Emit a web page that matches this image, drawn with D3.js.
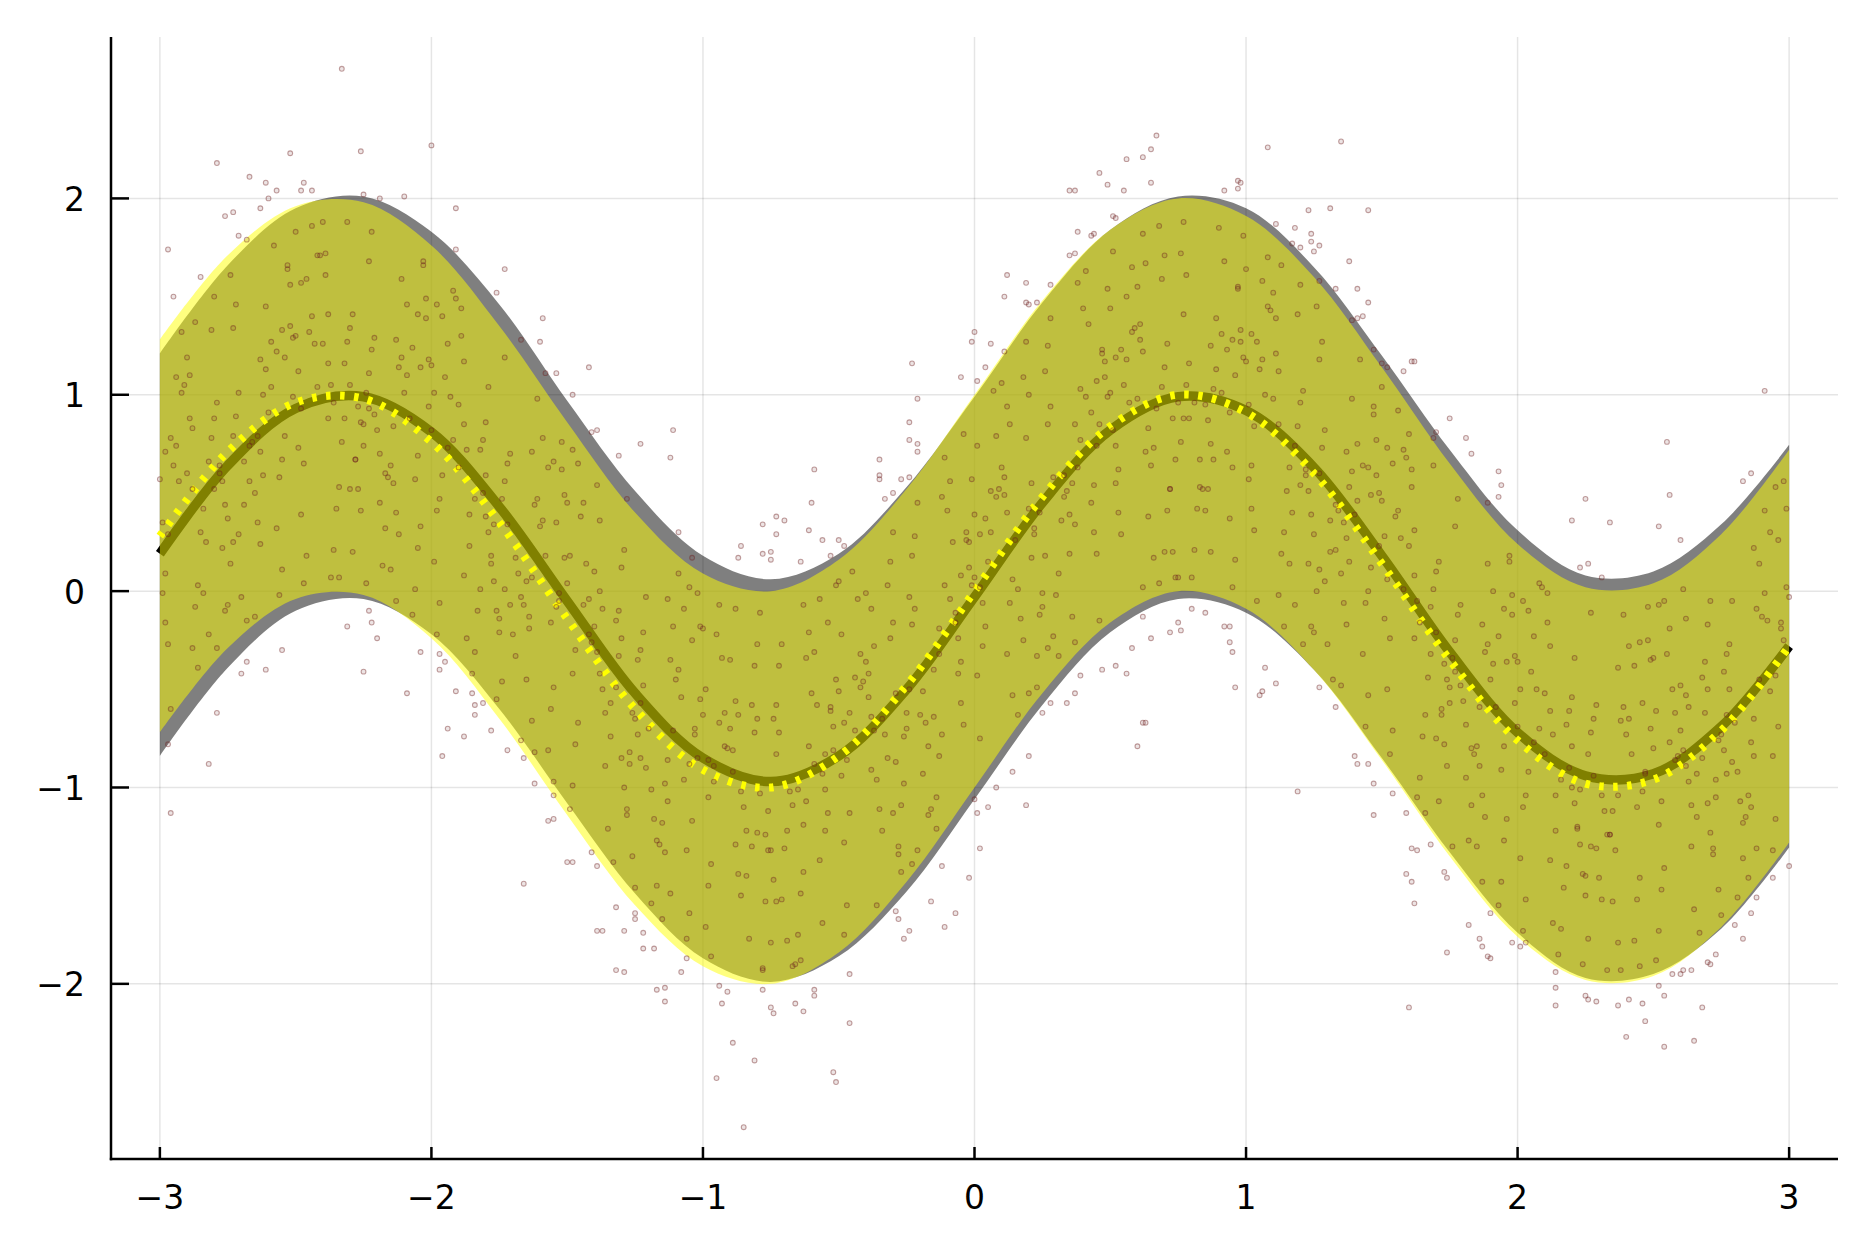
<!DOCTYPE html>
<html>
<head>
<meta charset="utf-8">
<script src="https://cdn.jsdelivr.net/npm/d3@7"></script>
<style>
  html, body { margin: 0; padding: 0; background: #ffffff; }
  svg { display: block; }
</style>
</head>
<body>
<svg id="chart" width="1875" height="1250"></svg>
<script>
// ---------------- data ----------------
const xGrid = [-3, -2.75, -2.5, -2.25, -2, -1.75, -1.5, -1.25, -1, -0.75, -0.5, -0.25, 0,
               0.25, 0.5, 0.75, 1, 1.25, 1.5, 1.75, 2, 2.25, 2.5, 2.75, 3];

// reference (black) curve and its grey ribbon
const trueMean  = [0.19, 0.64, 0.93, 0.99, 0.81, 0.43, -0.05, -0.52, -0.85, -0.97, -0.84, -0.50, -0.03,
                   0.45, 0.82, 0.99, 0.92, 0.63, 0.18, -0.31, -0.72, -0.94, -0.93, -0.69, -0.28];
const trueUpper = [1.21, 1.66, 1.95, 2.01, 1.83, 1.46, 0.97, 0.51, 0.18, 0.06, 0.19, 0.53, 0.99,
                   1.47, 1.84, 2.01, 1.95, 1.65, 1.20, 0.72, 0.31, 0.08, 0.10, 0.34, 0.745];
const trueLower = [-0.84, -0.39, -0.10, -0.04, -0.22, -0.60, -1.08, -1.54, -1.87, -1.99, -1.86, -1.53, -1.06,
                   -0.58, -0.21, -0.04, -0.11, -0.40, -0.85, -1.33, -1.74, -1.97, -1.95, -1.72, -1.305];

// fitted (yellow) curve and its ribbon
const fitMean  = [0.28, 0.71, 0.96, 0.98, 0.76, 0.35, -0.14, -0.60, -0.91, -1.00, -0.84, -0.48, 0.00,
                  0.48, 0.84, 1.00, 0.91, 0.60, 0.14, -0.35, -0.76, -0.98, -0.96, -0.71, -0.28];
const fitUpper = [1.28, 1.71, 1.96, 1.98, 1.76, 1.35, 0.86, 0.40, 0.09, 0.00, 0.16, 0.52, 1.00,
                  1.48, 1.84, 2.00, 1.91, 1.60, 1.14, 0.65, 0.24, 0.02, 0.04, 0.29, 0.72];
const fitLower = [-0.72, -0.29, -0.04, -0.02, -0.24, -0.65, -1.14, -1.60, -1.91, -2.00, -1.84, -1.48, -1.00,
                  -0.52, -0.16, 0.00, -0.09, -0.40, -0.86, -1.35, -1.76, -1.98, -1.96, -1.71, -1.28];

const xTicks = [-3, -2, -1, 0, 1, 2, 3];
const xTickLabels = ["\u22123", "\u22122", "\u22121", "0", "1", "2", "3"];
const yTicks = [-2, -1, 0, 1, 2];
const yTickLabels = ["\u22122", "\u22121", "0", "1", "2"];

// scatter: points inside the ribbon (first set)
const bandPointsA = [
[-2.99,0.35],[-2.83,0.25],[-2.91,1.05],[-2.77,0.56],[-2.95,0.64],[-2.87,-0.08],[-2.80,1.50],[-2.97,0.29],[-2.89,0.88],[-2.76,-0.10],[-2.93,0.56],[-2.85,0.30],[-2.81,1.33],[-2.98,-0.16],[-2.88,0.83],[-2.79,-0.29],
[-2.74,0.14],[-2.58,1.76],[-2.66,0.76],[-2.52,1.35],[-2.70,-0.03],[-2.62,1.00],[-2.55,0.67],[-2.72,1.46],[-2.64,0.35],[-2.51,1.29],[-2.68,-0.15],[-2.60,0.91],[-2.56,0.58],[-2.73,1.34],[-2.63,0.71],[-2.54,1.19],
[-2.49,1.12],[-2.33,0.76],[-2.41,1.71],[-2.27,0.52],[-2.45,1.32],[-2.37,0.07],[-2.30,1.05],[-2.47,0.65],[-2.39,1.61],[-2.26,0.86],[-2.43,1.26],[-2.35,0.42],[-2.31,1.88],[-2.48,0.93],[-2.38,1.41],[-2.29,0.20],
[-2.24,0.04],[-2.08,0.88],[-2.16,0.58],[-2.02,1.39],[-2.20,0.82],[-2.12,1.14],[-2.05,0.22],[-2.22,1.83],[-2.14,0.84],[-2.01,1.18],[-2.18,0.13],[-2.10,1.01],[-2.06,0.57],[-2.23,1.68],[-2.13,0.40],[-2.04,1.14],
[-1.99,1.01],[-1.83,-0.10],[-1.91,1.49],[-1.77,0.34],[-1.95,1.09],[-1.87,-0.24],[-1.80,0.59],[-1.97,0.47],[-1.89,1.30],[-1.76,-0.10],[-1.93,0.99],[-1.85,-0.42],[-1.81,0.50],[-1.98,0.41],[-1.88,1.17],[-1.79,0.30],
[-1.74,-0.46],[-1.58,0.18],[-1.66,-0.07],[-1.52,0.62],[-1.70,-0.22],[-1.62,0.44],[-1.55,-0.97],[-1.72,0.34],[-1.64,-0.19],[-1.51,0.49],[-1.68,0.09],[-1.60,0.33],[-1.56,-0.60],[-1.73,1.19],[-1.63,0.07],[-1.54,0.35],
[-1.49,0.18],[-1.33,-1.38],[-1.41,-0.26],[-1.27,-0.88],[-1.45,0.38],[-1.37,-0.50],[-1.30,-0.24],[-1.47,-0.78],[-1.39,0.54],[-1.26,-0.62],[-1.43,0.14],[-1.35,-1.21],[-1.31,-0.33],[-1.48,-0.42],[-1.38,0.36],[-1.29,-1.00],
[-1.24,-0.73],[-1.08,-0.54],[-1.16,-1.29],[-1.02,-0.01],[-1.20,-0.70],[-1.12,-0.35],[-1.05,-1.64],[-1.22,-0.48],[-1.14,-0.98],[-1.01,-0.18],[-1.18,-1.16],[-1.10,-0.45],[-1.06,-1.77],[-1.23,-0.57],[-1.13,-1.07],[-1.04,-0.25],
[-0.99,-0.50],[-0.83,-1.77],[-0.91,-0.80],[-0.77,-1.24],[-0.95,-0.22],[-0.87,-1.44],[-0.80,-0.65],[-0.97,-1.86],[-0.89,-0.92],[-0.76,-1.32],[-0.93,-0.34],[-0.85,-1.10],[-0.81,-0.72],[-0.98,-1.50],[-0.88,-0.09],[-0.79,-1.03],
[-0.74,-1.47],[-0.58,-0.58],[-0.66,-1.90],[-0.52,-0.81],[-0.70,-1.31],[-0.62,-0.34],[-0.55,-1.01],[-0.72,-0.72],[-0.64,-1.54],[-0.51,0.03],[-0.68,-1.02],[-0.60,-0.52],[-0.56,-1.69],[-0.73,-0.83],[-0.63,-1.19],[-0.54,-0.16],
[-0.49,-0.22],[-0.33,-0.73],[-0.41,-0.46],[-0.27,-1.09],[-0.45,0.10],[-0.37,-0.71],[-0.30,-0.16],[-0.47,-1.60],[-0.39,-0.54],[-0.26,-0.74],[-0.43,-0.04],[-0.35,-1.11],[-0.31,-0.24],[-0.48,-1.75],[-0.38,-0.64],[-0.29,-0.87],
[-0.24,-0.50],[-0.08,0.25],[-0.16,-1.11],[-0.02,0.12],[-0.20,-0.63],[-0.12,0.48],[-0.05,-0.57],[-0.22,-0.09],[-0.14,-1.21],[-0.01,0.03],[-0.18,-0.67],[-0.10,0.41],[-0.06,-0.24],[-0.23,-0.17],[-0.13,-0.84],[-0.04,0.80],
[0.01,0.74],[0.17,-0.14],[0.09,0.52],[0.23,-0.49],[0.05,0.15],[0.13,-0.06],[0.20,1.00],[0.03,-0.06],[0.11,0.49],[0.24,-0.12],[0.07,1.02],[0.15,0.26],[0.19,0.78],[0.02,-0.75],[0.12,0.40],[0.21,0.17],
[0.26,0.18],[0.42,1.36],[0.34,0.51],[0.48,1.09],[0.30,-0.02],[0.38,1.57],[0.45,0.74],[0.28,0.94],[0.36,-0.13],[0.49,0.99],[0.32,0.36],[0.40,1.44],[0.44,0.30],[0.27,0.85],[0.37,-0.26],[0.46,0.85],
[0.51,1.73],[0.67,0.93],[0.59,1.34],[0.73,0.20],[0.55,1.05],[0.63,0.71],[0.70,1.71],[0.53,0.40],[0.61,1.28],[0.74,0.07],[0.57,0.96],[0.65,0.64],[0.69,1.59],[0.52,0.74],[0.62,1.22],[0.71,0.41],
[0.76,0.76],[0.92,1.68],[0.84,0.52],[0.98,1.27],[0.80,0.07],[0.88,1.03],[0.95,0.63],[0.78,1.61],[0.86,0.87],[0.99,1.19],[0.82,0.42],[0.90,1.85],[0.94,0.91],[0.77,1.41],[0.87,0.20],[0.96,1.10],
[1.01,0.95],[1.17,0.40],[1.09,1.43],[1.23,0.51],[1.05,1.13],[1.13,0.19],[1.20,1.56],[1.03,0.84],[1.11,1.21],[1.24,-0.18],[1.07,1.00],[1.15,0.51],[1.19,1.41],[1.02,0.42],[1.12,1.12],[1.21,-0.27],
[1.26,0.00],[1.42,1.18],[1.34,0.41],[1.48,0.59],[1.30,-0.27],[1.38,0.53],[1.45,0.00],[1.28,1.27],[1.36,-0.06],[1.49,0.50],[1.32,-0.45],[1.40,0.39],[1.44,-0.06],[1.27,1.18],[1.37,0.27],[1.46,0.49],
[1.51,0.28],[1.67,-0.44],[1.59,0.68],[1.73,-0.78],[1.55,0.38],[1.63,-1.05],[1.70,-0.21],[1.53,-0.24],[1.61,0.53],[1.74,-0.45],[1.57,0.27],[1.65,-0.74],[1.69,0.64],[1.52,0.06],[1.62,0.31],[1.71,-1.07],
[1.76,-1.30],[1.92,-0.59],[1.84,-0.83],[1.98,-0.12],[1.80,-0.56],[1.88,-0.31],[1.95,-1.27],[1.78,0.47],[1.86,-0.59],[1.99,-0.33],[1.82,-1.27],[1.90,-0.45],[1.94,-0.91],[1.77,0.33],[1.87,-1.04],[1.96,-0.36],
[2.01,-0.50],[2.17,-1.51],[2.09,0.02],[2.23,-1.01],[2.05,-0.41],[2.13,-1.69],[2.20,-0.79],[2.03,-1.04],[2.11,-0.16],[2.24,-1.44],[2.07,-0.50],[2.15,-1.85],[2.19,-0.90],[2.02,-1.10],[2.12,-0.28],[2.21,-1.08],
[2.26,-1.77],[2.42,-0.83],[2.34,-1.24],[2.48,-0.25],[2.30,-1.46],[2.38,-0.66],[2.45,-1.91],[2.28,-0.94],[2.36,-1.32],[2.49,-0.35],[2.32,-1.12],[2.40,-0.73],[2.44,-1.57],[2.27,-0.11],[2.37,-1.04],[2.46,-0.57],
[2.51,-0.61],[2.67,-1.74],[2.59,-0.84],[2.73,-1.05],[2.55,-0.32],[2.63,-0.97],[2.70,-0.50],[2.53,-1.52],[2.61,0.01],[2.74,-0.76],[2.57,-0.50],[2.65,-1.62],[2.69,-0.62],[2.52,-1.19],[2.62,-0.14],[2.71,-1.23],
[2.76,-0.81],[2.92,-0.15],[2.84,-1.15],[2.98,0.56],[2.80,-0.67],[2.88,-0.09],[2.95,-1.16],[2.78,-0.50],[2.86,-0.77],[2.99,0.42],[2.82,-1.07],[2.90,-0.13],[2.94,-1.32],[2.77,-0.63],[2.87,-0.84],[2.96,0.26]
];

// scatter: points inside the ribbon (second set)
const bandPointsB = [
[-2.98,0.71],[-2.82,-0.22],[-2.90,0.60],[-2.76,0.44],[-2.94,1.09],[-2.86,0.03],[-2.79,0.96],[-2.96,-0.60],[-2.88,0.52],[-2.75,0.37],[-2.92,1.01],[-2.84,0.42],[-2.80,0.88],[-2.97,-0.27],[-2.87,1.37],[-2.78,0.60],
[-2.73,0.25],[-2.57,1.22],[-2.65,-0.13],[-2.51,0.99],[-2.69,0.44],[-2.61,1.45],[-2.54,0.79],[-2.71,1.01],[-2.63,0.24],[-2.50,1.83],[-2.67,0.74],[-2.59,1.27],[-2.55,0.11],[-2.72,0.89],[-2.62,0.59],[-2.53,1.64],
[-2.48,1.57],[-2.32,0.88],[-2.40,1.26],[-2.26,0.41],[-2.44,1.86],[-2.36,0.96],[-2.29,1.41],[-2.46,0.18],[-2.38,1.16],[-2.25,0.74],[-2.42,1.71],[-2.34,0.53],[-2.30,1.34],[-2.47,0.04],[-2.37,1.05],[-2.28,0.67],
[-2.23,0.93],[-2.07,1.24],[-2.15,0.11],[-2.01,0.94],[-2.19,0.70],[-2.11,1.59],[-2.04,0.33],[-2.21,1.29],[-2.13,-0.05],[-2.00,0.82],[-2.17,0.60],[-2.09,1.46],[-2.05,0.69],[-2.22,1.23],[-2.12,0.29],[-2.03,1.68],
[-1.98,1.46],[-1.82,0.01],[-1.90,0.95],[-1.76,-0.55],[-1.94,0.73],[-1.86,0.23],[-1.79,1.04],[-1.96,0.59],[-1.88,0.85],[-1.75,-0.21],[-1.92,1.53],[-1.84,0.47],[-1.80,0.86],[-1.97,-0.06],[-1.87,0.72],[-1.78,0.18],
[-1.73,0.01],[-1.57,0.63],[-1.65,0.05],[-1.51,0.17],[-1.69,-0.33],[-1.61,0.98],[-1.54,-0.08],[-1.71,0.70],[-1.63,-0.66],[-1.50,0.04],[-1.67,-0.03],[-1.59,0.78],[-1.55,-0.49],[-1.72,0.65],[-1.62,-0.82],[-1.53,-0.01],
[-1.48,0.72],[-1.32,-0.49],[-1.40,0.10],[-1.26,-1.35],[-1.44,-0.07],[-1.36,-0.62],[-1.29,0.21],[-1.46,-0.67],[-1.38,0.00],[-1.25,-1.51],[-1.42,-0.22],[-1.34,-0.74],[-1.30,0.12],[-1.47,-0.30],[-1.37,-0.09],[-1.28,-1.11],
[-1.23,-0.85],[-1.07,-0.09],[-1.15,-1.18],[-1.01,-0.55],[-1.19,-1.59],[-1.11,-0.71],[-1.04,-1.17],[-1.21,-0.03],[-1.13,-0.86],[-1.00,-0.63],[-1.17,-1.27],[-1.09,0.09],[-1.05,-0.88],[-1.22,-0.21],[-1.12,-1.54],[-1.03,-0.70],
[-0.98,-0.86],[-0.82,-1.30],[-0.90,-0.35],[-0.76,-1.12],[-0.94,-0.67],[-0.86,-1.55],[-0.79,-0.11],[-0.96,-0.97],[-0.88,-0.56],[-0.75,-1.79],[-0.92,-0.79],[-0.84,-1.22],[-0.80,-0.27],[-0.97,-1.39],[-0.87,-0.63],[-0.78,-1.92],
[-0.73,-1.58],[-0.57,-0.04],[-0.65,-1.01],[-0.51,-0.45],[-0.69,-1.78],[-0.61,-0.79],[-0.54,-1.13],[-0.71,-0.27],[-0.63,-1.43],[-0.50,-0.51],[-0.67,-1.91],[-0.59,-0.88],[-0.55,-1.22],[-0.72,-0.38],[-0.62,-1.07],[-0.53,-0.61],
[-0.48,-0.67],[-0.32,-0.85],[-0.40,-0.01],[-0.26,-0.98],[-0.44,-0.44],[-0.36,-1.60],[-0.29,-0.52],[-0.46,-1.13],[-0.38,-0.09],[-0.25,-0.62],[-0.42,-0.49],[-0.34,-1.22],[-0.30,0.30],[-0.47,-0.86],[-0.37,-0.28],[-0.28,-1.34],
[-0.23,-1.39],[-0.07,-0.11],[-0.15,-0.64],[-0.01,0.57],[-0.19,-0.51],[-0.11,0.03],[-0.04,-0.68],[-0.21,0.45],[-0.13,-0.32],[0.00,0.39],[-0.17,-1.14],[-0.09,-0.04],[-0.05,-0.36],[-0.22,0.28],[-0.12,-0.73],[-0.03,0.26],
[0.02,0.29],[0.18,-0.25],[0.10,1.06],[0.24,0.40],[0.06,0.51],[0.14,-0.53],[0.21,0.55],[0.04,-0.18],[0.12,0.94],[0.25,-0.01],[0.08,0.48],[0.16,-0.63],[0.20,0.42],[0.03,-0.28],[0.13,0.85],[0.22,0.29],
[0.27,-0.29],[0.43,0.91],[0.35,0.39],[0.49,1.54],[0.31,0.09],[0.39,1.03],[0.46,-0.15],[0.29,0.58],[0.37,0.34],[0.50,1.44],[0.33,0.48],[0.41,0.99],[0.45,0.19],[0.28,1.39],[0.38,0.63],[0.47,1.21],
[0.52,1.19],[0.68,0.04],[0.60,0.98],[0.74,0.67],[0.56,1.50],[0.64,0.83],[0.71,1.26],[0.54,0.29],[0.62,1.82],[0.75,0.96],[0.58,1.32],[0.66,0.17],[0.70,1.14],[0.53,0.62],[0.63,1.67],[0.72,0.52],
[0.77,0.88],[0.93,1.23],[0.85,0.41],[0.99,1.81],[0.81,0.96],[0.89,1.39],[0.96,0.16],[0.79,1.16],[0.87,0.75],[1.00,1.64],[0.83,0.53],[0.91,1.31],[0.95,0.02],[0.78,1.05],[0.88,0.67],[0.97,1.55],
[1.02,1.31],[1.18,-0.07],[1.10,0.98],[1.24,0.39],[1.06,1.58],[1.14,0.30],[1.21,1.02],[1.04,-0.05],[1.12,0.85],[1.25,0.29],[1.08,1.45],[1.16,0.63],[1.20,0.96],[1.03,0.31],[1.13,1.66],[1.22,0.62],
[1.27,0.11],[1.43,0.64],[1.35,-0.48],[1.49,0.23],[1.31,0.20],[1.39,0.98],[1.46,0.12],[1.29,0.82],[1.37,-0.17],[1.50,1.04],[1.33,0.44],[1.41,0.75],[1.45,-0.53],[1.28,0.73],[1.38,0.15],[1.47,0.94],
[1.52,0.73],[1.68,-0.32],[1.60,0.23],[1.74,-0.89],[1.56,0.92],[1.64,-0.16],[1.71,0.15],[1.54,-0.71],[1.62,0.08],[1.75,-0.57],[1.58,0.72],[1.66,-0.63],[1.70,0.10],[1.53,-0.83],[1.63,-0.05],[1.72,-0.60],
[1.77,-0.41],[1.93,-0.23],[1.85,-1.30],[1.99,-0.57],[1.81,-0.68],[1.89,0.14],[1.96,-1.16],[1.79,-0.07],[1.87,-1.48],[2.00,-0.69],[1.83,-0.80],[1.91,0.00],[1.95,-0.79],[1.78,-0.12],[1.88,-1.15],[1.97,0.18],
[2.02,-0.05],[2.18,-1.40],[2.10,-0.52],[2.24,-1.90],[2.06,-0.77],[2.14,-1.22],[2.21,-0.34],[2.04,-0.92],[2.12,-0.61],[2.25,-1.55],[2.08,0.04],[2.16,-0.96],[2.20,-0.54],[2.03,-1.57],[2.13,-0.73],[2.22,-1.20],
[2.27,-1.30],[2.43,-0.38],[2.35,-1.12],[2.49,-0.70],[2.31,-1.57],[2.39,-0.12],[2.46,-1.02],[2.29,-0.58],[2.37,-1.79],[2.50,-0.80],[2.33,-1.24],[2.41,-0.28],[2.45,-1.46],[2.28,-0.65],[2.38,-1.93],[2.47,-0.93],
[2.52,-0.07],[2.68,-0.85],[2.60,-0.48],[2.74,-1.52],[2.56,-0.77],[2.64,-1.09],[2.71,-0.05],[2.54,-1.41],[2.62,-0.53],[2.75,-1.65],[2.58,-0.86],[2.66,-1.15],[2.70,-0.17],[2.53,-1.07],[2.63,-0.59],[2.72,-1.34],
[2.77,-0.93],[2.93,0.30],[2.85,-1.04],[2.99,0.02],[2.81,-1.56],[2.89,-0.45],[2.96,-0.69],[2.79,-0.05],[2.87,-0.65],[3.00,-0.03],[2.83,-1.18],[2.91,0.41],[2.95,-0.43],[2.78,-0.27],[2.88,-1.31],[2.97,-0.19]
];

// scatter: points inside the ribbon (third set)
const bandPointsC = [
[-3.00,0.57],[-2.84,-0.01],[-2.92,1.32],[-2.78,0.64],[-2.96,0.78],[-2.88,-0.29],[-2.81,0.78],[-2.98,0.09],[-2.90,1.19],[-2.77,0.22],[-2.94,0.74],[-2.86,-0.39],[-2.82,0.66],[-2.99,-0.01],[-2.89,1.10],[-2.80,0.52],
[-2.75,-0.07],[-2.59,1.04],[-2.67,0.56],[-2.53,1.66],[-2.71,0.29],[-2.63,1.18],[-2.56,-0.02],[-2.73,0.79],[-2.65,0.50],[-2.52,1.56],[-2.69,0.66],[-2.61,1.13],[-2.57,0.32],[-2.74,1.61],[-2.64,0.79],[-2.55,1.33],
[-2.50,1.30],[-2.34,0.07],[-2.42,1.04],[-2.28,0.67],[-2.46,1.59],[-2.38,0.88],[-2.31,1.27],[-2.48,0.39],[-2.40,1.88],[-2.27,0.94],[-2.44,1.40],[-2.36,0.21],[-2.32,1.16],[-2.49,0.73],[-2.39,1.72],[-2.30,0.52],
[-2.25,0.85],[-2.09,1.10],[-2.17,0.32],[-2.03,1.66],[-2.21,0.90],[-2.13,1.28],[-2.06,0.01],[-2.23,1.11],[-2.15,0.64],[-2.02,1.49],[-2.19,0.45],[-2.11,1.19],[-2.07,-0.12],[-2.24,1.01],[-2.14,0.55],[-2.05,1.41],
[-2.00,1.15],[-1.84,-0.31],[-1.92,0.77],[-1.78,0.14],[-1.96,1.40],[-1.88,0.08],[-1.81,0.77],[-1.98,-0.22],[-1.90,0.63],[-1.77,0.05],[-1.94,1.26],[-1.86,0.39],[-1.82,0.72],[-1.99,0.15],[-1.89,1.44],[-1.80,0.38],
[-1.75,-0.14],[-1.59,0.36],[-1.67,-0.76],[-1.53,-0.05],[-1.71,-0.07],[-1.63,0.71],[-1.56,-0.16],[-1.73,0.56],[-1.65,-0.45],[-1.52,0.76],[-1.69,0.17],[-1.61,0.47],[-1.57,-0.81],[-1.74,0.47],[-1.64,-0.13],[-1.55,0.66],
[-1.50,0.45],[-1.34,-0.57],[-1.42,-0.04],[-1.28,-1.14],[-1.46,0.65],[-1.38,-0.42],[-1.31,-0.10],[-1.48,-0.99],[-1.40,-0.18],[-1.27,-0.82],[-1.44,0.45],[-1.36,-0.89],[-1.32,-0.15],[-1.49,-1.11],[-1.39,-0.31],[-1.30,-0.85],
[-1.25,-0.65],[-1.09,-0.40],[-1.17,-1.50],[-1.03,-0.73],[-1.21,-0.90],[-1.13,-0.04],[-1.06,-1.32],[-1.23,-0.30],[-1.15,-1.67],[-1.02,-0.85],[-1.19,-1.01],[-1.11,-0.18],[-1.07,-0.96],[-1.24,-0.35],[-1.14,-1.33],[-1.05,0.02],
[-1.00,-0.19],[-0.84,-1.45],[-0.92,-0.62],[-0.78,-1.93],[-0.96,-0.89],[-0.88,-1.29],[-0.81,-0.38],[-0.98,-1.05],[-0.90,-0.70],[-0.77,-1.58],[-0.94,-0.07],[-0.86,-1.02],[-0.82,-0.58],[-0.99,-1.71],[-0.89,-0.81],[-0.80,-1.23],
[-0.75,-1.32],[-0.59,-0.31],[-0.67,-1.09],[-0.53,-0.59],[-0.71,-1.57],[-0.63,-0.07],[-0.56,-0.93],[-0.73,-0.58],[-0.65,-1.75],[-0.52,-0.69],[-0.69,-1.22],[-0.61,-0.21],[-0.57,-1.37],[-0.74,-0.65],[-0.64,-1.88],[-0.55,-0.83],
[-0.50,0.05],[-0.34,-0.65],[-0.42,-0.32],[-0.28,-1.30],[-0.46,-0.62],[-0.38,-0.91],[-0.31,0.15],[-0.48,-1.28],[-0.40,-0.36],[-0.27,-1.43],[-0.44,-0.71],[-0.36,-0.96],[-0.32,0.03],[-0.49,-0.94],[-0.39,-0.42],[-0.30,-1.13],
[-0.25,-0.70],[-0.09,0.56],[-0.17,-0.79],[-0.03,0.30],[-0.21,-1.32],[-0.13,-0.19],[-0.06,-0.42],[-0.23,0.18],[-0.15,-0.40],[-0.02,0.25],[-0.19,-0.93],[-0.11,0.68],[-0.07,-0.16],[-0.24,-0.03],[-0.14,-1.05],[-0.05,0.08],
[0.00,0.07],[0.16,0.01],[0.08,0.79],[0.22,0.32],[0.04,0.37],[0.12,-0.32],[0.19,1.27],[0.02,0.02],[0.10,0.63],[0.23,-0.33],[0.06,0.30],[0.14,0.06],[0.18,1.09],[0.01,-0.43],[0.11,0.58],[0.20,-0.52],
[0.25,-0.08],[0.41,1.63],[0.33,0.59],[0.47,1.23],[0.29,-0.23],[0.37,0.85],[0.44,0.54],[0.27,1.25],[0.35,0.19],[0.48,1.17],[0.31,-0.33],[0.39,0.77],[0.43,0.45],[0.26,1.12],[0.36,0.55],[0.45,1.07],
[0.50,1.01],[0.66,0.73],[0.58,1.65],[0.72,0.52],[0.54,1.23],[0.62,0.02],[0.69,1.04],[0.52,0.55],[0.60,1.55],[0.73,0.88],[0.56,1.18],[0.64,0.38],[0.68,1.86],[0.51,0.82],[0.61,1.36],[0.70,0.20],
[0.75,0.07],[0.91,1.01],[0.83,0.67],[0.97,1.54],[0.79,0.88],[0.87,1.25],[0.94,0.37],[0.77,1.88],[0.85,0.95],[0.98,1.33],[0.81,0.21],[0.89,1.13],[0.93,0.71],[0.76,1.72],[0.86,0.52],[0.95,1.28],
[1.00,1.17],[1.16,0.14],[1.08,1.70],[1.22,0.59],[1.04,1.27],[1.12,-0.02],[1.19,0.84],[1.02,0.64],[1.10,1.52],[1.23,0.14],[1.06,1.18],[1.14,-0.18],[1.18,0.74],[1.01,0.57],[1.11,1.39],[1.20,0.54],
[1.25,-0.21],[1.41,0.46],[1.33,0.21],[1.47,0.90],[1.29,0.05],[1.37,0.71],[1.44,-0.69],[1.27,0.60],[1.35,0.09],[1.48,0.77],[1.31,0.36],[1.39,0.61],[1.43,-0.32],[1.26,1.45],[1.36,0.35],[1.45,0.63],
[1.50,0.46],[1.66,-1.13],[1.58,0.01],[1.72,-0.63],[1.54,0.65],[1.62,-0.24],[1.69,0.01],[1.52,-0.50],[1.60,0.80],[1.73,-0.37],[1.56,0.41],[1.64,-0.95],[1.68,-0.08],[1.51,-0.14],[1.61,0.62],[1.70,-0.75],
[1.75,-0.49],[1.91,-0.37],[1.83,-1.09],[1.97,0.15],[1.79,-0.48],[1.87,-0.17],[1.94,-1.48],[1.77,-0.25],[1.85,-0.79],[1.98,-0.02],[1.81,-0.95],[1.89,-0.27],[1.93,-1.60],[1.76,-0.34],[1.86,-0.89],[1.95,-0.09],
[2.00,-0.36],[2.16,-1.72],[2.08,-0.70],[2.22,-1.21],[2.04,-0.10],[2.12,-1.37],[2.19,-0.61],[2.02,-1.73],[2.10,-0.83],[2.23,-1.29],[2.06,-0.23],[2.14,-1.04],[2.18,-0.68],[2.01,-1.36],[2.11,-0.01],[2.20,-1.00],
[2.25,-1.45],[2.41,-0.65],[2.33,-1.93],[2.47,-0.92],[2.29,-1.31],[2.37,-0.39],[2.44,-1.10],[2.27,-0.72],[2.35,-1.58],[2.48,-0.08],[2.31,-1.04],[2.39,-0.59],[2.43,-1.78],[2.26,-0.83],[2.34,-1.24],[2.45,-0.26],
[2.50,-0.34],[2.66,-0.93],[2.58,-0.62],[2.72,-1.31],[2.54,-0.05],[2.62,-0.89],[2.69,-0.36],[2.52,-1.73],[2.60,-0.71],[2.73,-0.96],[2.56,-0.19],[2.64,-1.30],[2.68,-0.44],[2.51,-1.88],[2.61,-0.81],[2.70,-1.08],
[2.75,-0.73],[2.91,-0.01],[2.83,-1.36],[2.97,-0.16],[2.79,-0.87],[2.87,0.22],[2.94,-0.84],[2.77,-0.32],[2.85,-1.46],[2.98,-0.25],[2.81,-0.92],[2.89,0.14],[2.93,-0.51],[2.76,-0.41],[2.86,-1.10],[2.95,0.53]
];

// scatter: points outside the ribbon
const outerPoints = [
[-2.61,2.08],[-2.57,2.04],[-2.47,2.08],[-2.44,2.04],[-2.48,2.04],[-2.60,2.00],[-2.63,1.95],[-2.76,1.91],[-2.73,1.93],[-2.71,1.81],[-2.68,1.79],[-2.97,1.74],[-2.85,1.60],[-2.95,1.50],[-2.25,2.02],[-2.19,2.00],[-2.10,2.01],
[-2.31,-0.18],[-2.23,-0.10],[-2.22,-0.16],[-2.20,-0.24],[-2.25,-0.41],[-2.09,-0.52],[-2.04,-0.31],[-2.55,-0.30],[-2.61,-0.40],[-2.68,-0.36],[-2.70,-0.42],[-2.79,-0.62],[-2.82,-0.88],[-2.96,-1.13],[-2.97,-0.78],
[-2.79,2.18],[-2.52,2.23],[-2.26,2.24],[-2.33,2.66],[-2.00,2.27],[-2.67,2.11],
[-1.91,1.95],[-1.91,1.74],[-1.73,1.64],[-1.76,1.52],[-1.59,1.39],[-1.60,1.27],[-1.67,1.28],[-1.54,1.11],[-1.58,1.11],[-1.48,1.00],[-1.42,1.14],[-1.39,0.82],[-1.41,0.81],[-1.23,0.75],[-1.11,0.82],[-1.12,0.68],[-1.31,0.69],[-1.28,0.47],[-1.09,0.30],[-1.04,0.17],
[-1.97,-0.32],[-1.97,-0.40],[-1.95,-0.36],[-1.91,-0.51],[-1.85,-0.52],[-1.84,-0.58],[-1.84,-0.63],[-1.81,-0.57],[-1.78,-0.71],[-1.94,-0.70],[-1.88,-0.74],[-1.96,-0.84],[-1.72,-0.81],[-1.66,-0.85],[-1.62,-0.98],[-1.55,-1.04],[-1.57,-1.17],[-1.55,-1.16],[-1.50,-1.38],[-1.48,-1.38],[-1.66,-1.49],[-1.41,-1.33],[-1.39,-1.40],[-1.32,-1.61],[-1.39,-1.73],[-1.37,-1.73],[-1.29,-1.73],[-1.25,-1.64],[-1.25,-1.67],[-1.22,-1.74],[-1.22,-1.82],[-1.18,-1.82],[-1.32,-1.93],[-1.29,-1.94],[-1.17,-2.03],[-1.14,-2.09],[-1.08,-1.94],[-1.06,-1.87],
[-0.23,1.16],[-0.05,1.09],[-0.21,0.98],[-0.24,0.86],[-0.24,0.77],[-0.21,0.75],[-0.21,0.71],[-0.35,0.67],[-0.59,0.62],[-0.35,0.59],[-0.35,0.57],[-0.27,0.57],[-0.24,0.58],[-0.30,0.50],[-0.33,0.47],[-0.60,0.45],[-0.78,0.34],[-0.73,0.38],[-0.70,0.36],[-0.73,0.29],[-0.61,0.31],[-0.86,0.23],[-0.78,0.19],[-0.75,0.20],[-0.75,0.16],[-0.64,0.15],[-0.87,0.17],[-0.56,0.26],[-0.53,0.18],[-0.50,0.26],[-0.48,0.23],[0.00,1.32],[-0.01,1.27],
[0.00,-1.06],[-0.02,-1.46],[-0.12,-1.40],[-0.07,-1.64],[-0.16,-1.58],[-0.29,-1.63],[-0.28,-1.67],[-0.24,-1.73],[-0.26,-1.77],[-0.11,-1.71],[-0.46,-1.95],[-0.94,-2.01],[-0.91,-2.04],[-0.93,-2.10],[-0.78,-2.03],[-0.75,-2.12],[-0.66,-2.10],[-0.59,-2.03],[-0.59,-2.06],
[-0.85,-2.73],[-0.95,-2.48],[-0.81,-2.39],[-0.89,-2.30],[-0.51,-2.50],[-0.52,-2.45],[-0.46,-2.20],[-0.74,-2.15],[-0.63,-2.14],[-1.14,-2.02],
[0.35,2.04],[0.37,2.04],[0.49,2.07],[0.55,2.04],[0.65,2.08],[0.92,2.04],[0.97,2.05],[0.98,2.08],[0.51,1.91],[0.52,1.90],[0.38,1.83],[0.37,1.72],[0.35,1.71],[0.43,1.81],[0.44,1.82],[0.12,1.61],[0.19,1.57],[0.11,1.50],[0.28,1.56],[0.19,1.47],[0.20,1.46],[0.23,1.47],[0.06,1.26],[0.11,1.22],[0.04,1.14],[0.01,1.07],
[0.01,-1.13],[0.05,-1.10],[0.08,-1.00],[0.02,-1.31],[0.14,-0.92],[0.19,-1.09],[0.20,-0.84],[0.25,-0.62],[0.28,-0.57],[0.34,-0.57],[0.37,-0.52],[0.39,-0.43],[0.47,-0.40],[0.52,-0.38],[0.56,-0.42],[0.58,-0.29],[0.62,-0.67],[0.63,-0.67],[0.60,-0.79],[0.65,-0.24],[0.75,-0.16],[0.76,-0.20],[0.72,-0.21],[0.80,-0.09],[0.85,-0.11],[0.92,-0.18],[0.94,-0.18],[0.94,-0.26],[0.95,-0.31],[0.96,-0.49],[0.62,-0.13],
[0.67,2.32],[0.65,2.25],[0.56,2.20],[0.62,2.21],[1.08,2.26],[1.35,2.29],[0.46,2.13],[0.97,2.09],
[1.23,1.94],[1.45,1.94],[1.11,1.87],[1.18,1.85],[1.24,1.82],[1.17,1.77],[1.20,1.75],[1.25,1.73],[1.27,1.76],[1.38,1.68],[1.27,1.58],[1.33,1.54],[1.41,1.54],[1.45,1.47],[1.39,1.38],[1.41,1.39],[1.43,1.40],[1.47,1.23],[1.50,1.16],[1.52,1.14],[1.58,1.12],[1.62,1.17],[1.75,0.88],[1.70,0.81],[1.69,0.78],[1.81,0.78],[1.83,0.70],[1.93,0.61],[1.94,0.54],[1.93,0.48],[1.89,0.45],
[1.05,-0.53],[1.06,-0.51],[1.07,-0.39],[1.11,-0.47],[1.19,-1.02],[1.27,-0.49],[1.33,-0.59],[1.40,-0.84],[1.41,-0.88],[1.45,-0.88],[1.47,-0.98],[1.47,-1.14],[1.54,-1.03],[1.59,-1.13],[1.61,-1.31],[1.63,-1.32],[1.59,-1.44],[1.61,-1.48],[1.62,-1.59],[1.73,-1.43],[1.74,-1.46],[1.68,-1.29],[1.74,-1.84],[1.82,-1.70],[1.86,-1.77],[1.87,-1.81],[1.89,-1.86],[1.90,-1.87],[1.90,-1.64],[1.98,-1.79],[2.01,-1.81],[2.03,-1.79],[1.60,-2.12],
[1.31,1.95],[1.24,1.78],[1.61,1.17],
[2.91,1.02],[2.55,0.76],[2.56,0.49],[2.25,0.47],[2.20,0.36],[2.34,0.35],[2.52,0.33],[2.60,0.26],[2.86,0.60],[2.83,0.56],[2.23,0.12],[2.26,0.14],[2.31,0.07],
[3.00,-1.40],[2.94,-1.46],[2.88,-1.56],[2.86,-1.64],[2.83,-1.77],[2.80,-1.70],[2.73,-1.85],[2.71,-1.90],[2.70,-1.89],[2.64,-1.93],[2.61,-1.93],[2.57,-1.95],[2.60,-1.95],[2.52,-2.01],[2.54,-2.06],[2.68,-2.12],[2.46,-2.10],[2.37,-2.11],[2.41,-2.08],[2.26,-2.08],[2.25,-2.06],[2.14,-2.11],[2.14,-1.94],[2.14,-2.02],
[2.40,-2.27],[2.54,-2.32],[2.65,-2.29],[2.47,-2.19],[2.29,-2.09]
];

// ---------------- layout ----------------
const svg = d3.select("#chart");
const W = 1875, H = 1250;
svg.append("rect").attr("width", W).attr("height", H).attr("fill", "#ffffff");

const plotLeft = 111, plotRight = 1838, plotTop = 37, plotBottom = 1159;
const x = d3.scaleLinear().domain([-3.18, 3.18]).range([plotLeft, plotRight]);
const y = d3.scaleLinear().domain([-2.892, 2.822]).range([plotBottom, plotTop]);

const fontFam = "'DejaVu Sans', sans-serif";

// grid
const grid = svg.append("g");
grid.selectAll("line.vx").data(xTicks).enter().append("line")
  .attr("x1", d => x(d)).attr("x2", d => x(d))
  .attr("y1", plotTop).attr("y2", plotBottom)
  .attr("stroke", "rgba(0,0,0,0.1)").attr("stroke-width", 1.5);
grid.selectAll("line.hy").data(yTicks).enter().append("line")
  .attr("x1", plotLeft).attr("x2", plotRight)
  .attr("y1", d => y(d)).attr("y2", d => y(d))
  .attr("stroke", "rgba(0,0,0,0.1)").attr("stroke-width", 1.5);

const idx = d3.range(xGrid.length);
const curve = d3.curveCatmullRom.alpha(0.5);

// grey ribbon
const trueArea = d3.area().curve(curve)
  .x(i => x(xGrid[i])).y0(i => y(trueLower[i])).y1(i => y(trueUpper[i]));
svg.append("path").datum(idx).attr("d", trueArea)
  .attr("fill", "rgba(0,0,0,0.5)").attr("stroke", "none");

// black line
const trueLine = d3.line().curve(curve).x(i => x(xGrid[i])).y(i => y(trueMean[i]));
svg.append("path").datum(idx).attr("d", trueLine)
  .attr("fill", "none").attr("stroke", "#000000").attr("stroke-width", 9.5);

// yellow ribbon
const fitArea = d3.area().curve(curve)
  .x(i => x(xGrid[i])).y0(i => y(fitLower[i])).y1(i => y(fitUpper[i]));
svg.append("path").datum(idx).attr("d", fitArea)
  .attr("fill", "rgba(255,255,0,0.5)").attr("stroke", "none");

// yellow dotted line
const fitLine = d3.line().curve(curve).x(i => x(xGrid[i])).y(i => y(fitMean[i]));
svg.append("path").datum(idx).attr("d", fitLine)
  .attr("fill", "none").attr("stroke", "#ffff00").attr("stroke-width", 8)
  .attr("stroke-dasharray", "4.5,9.5");

// scatter
const allPoints = bandPointsA.concat(bandPointsB, bandPointsC, outerPoints);
svg.append("g").selectAll("circle").data(allPoints).enter().append("circle")
  .attr("cx", d => x(d[0])).attr("cy", d => y(d[1])).attr("r", 2.4)
  .attr("fill", "rgba(110,30,30,0.12)")
  .attr("stroke", "rgba(110,30,30,0.42)").attr("stroke-width", 1.1);

// axes
const ax = svg.append("g");
ax.append("line").attr("x1", plotLeft).attr("x2", plotLeft)
  .attr("y1", plotTop).attr("y2", plotBottom + 1.2)
  .attr("stroke", "#000").attr("stroke-width", 2.5);
ax.append("line").attr("x1", plotLeft - 1.2).attr("x2", plotRight)
  .attr("y1", plotBottom).attr("y2", plotBottom)
  .attr("stroke", "#000").attr("stroke-width", 2.5);

ax.selectAll("line.xt").data(xTicks).enter().append("line")
  .attr("x1", d => x(d)).attr("x2", d => x(d))
  .attr("y1", plotBottom).attr("y2", plotBottom - 12)
  .attr("stroke", "#000").attr("stroke-width", 2.5);
ax.selectAll("line.yt").data(yTicks).enter().append("line")
  .attr("x1", plotLeft).attr("x2", plotLeft + 18)
  .attr("y1", d => y(d)).attr("y2", d => y(d))
  .attr("stroke", "#000").attr("stroke-width", 2.5);

ax.selectAll("text.xl").data(xTicks).enter().append("text")
  .attr("x", d => x(d)).attr("y", 1209)
  .attr("text-anchor", "middle")
  .attr("font-family", fontFam).attr("font-size", 33).attr("fill", "#000")
  .text((d, i) => xTickLabels[i]);
ax.selectAll("text.yl").data(yTicks).enter().append("text")
  .attr("x", 85).attr("y", d => y(d) + 12.5)
  .attr("text-anchor", "end")
  .attr("font-family", fontFam).attr("font-size", 33).attr("fill", "#000")
  .text((d, i) => yTickLabels[i]);
</script>
</body>
</html>
